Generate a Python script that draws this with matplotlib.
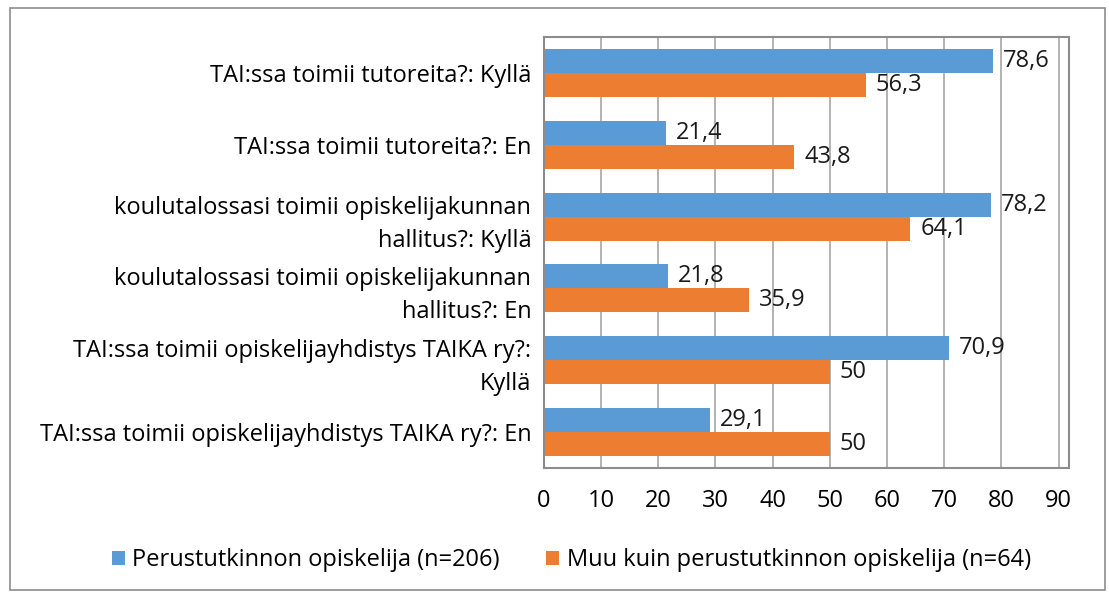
import numpy as np
import matplotlib.pyplot as plt
from matplotlib.patches import Rectangle

categories = [
    "TAI:ssa toimii tutoreita?: Kyllä",
    "TAI:ssa toimii tutoreita?: En",
    "koulutalossasi toimii opiskelijakunnan\nhallitus?: Kyllä",
    "koulutalossasi toimii opiskelijakunnan\nhallitus?: En",
    "TAI:ssa toimii opiskelijayhdistys TAIKA ry?:\nKyllä",
    "TAI:ssa toimii opiskelijayhdistys TAIKA ry?: En",
]
perus = [78.6, 21.4, 78.2, 21.8, 70.9, 29.1]
muu = [56.3, 43.8, 64.1, 35.9, 50, 50]
series_names = ["Perustutkinnon opiskelija (n=206)",
                "Muu kuin perustutkinnon opiskelija (n=64)"]

plt.rcParams['font.family'] = ['Open Sans', 'DejaVu Sans']
blue = "#5B9BD5"
orange = "#ED7D31"
fs = 17

fig = plt.figure(figsize=(11.09, 5.92), dpi=100)
ax = fig.add_axes([543.7 / 1109, 1 - 468 / 592, (1069 - 543.7) / 1109, (468 - 37) / 592])

y = np.arange(len(categories))
h = 0.335
b1 = ax.barh(y - h / 2, perus, height=h, color=blue, label=series_names[0], zorder=2)
b2 = ax.barh(y + h / 2, muu, height=h, color=orange, label=series_names[1], zorder=2)

def fmt(v):
    s = f"{v:.1f}".replace(".", ",")
    return s[:-2] if s.endswith(",0") else s

for bars, vals in [(b1, perus), (b2, muu)]:
    for rect, v in zip(bars, vals):
        ax.annotate(fmt(v), (v, rect.get_y() + rect.get_height() / 2),
                    xytext=(7, 0), textcoords="offset points",
                    va="center", ha="left", fontsize=fs, color="#1a1a1a", zorder=3)

ax.set_ylim(len(categories) - 0.5, -0.5)
ax.set_xlim(0, 91.8)
ax.set_xticks(np.arange(0, 100, 10))
ax.set_yticks(y)
ax.set_yticklabels(categories, fontsize=fs, linespacing=1.5)
ax.tick_params(axis="x", labelsize=fs, length=0, pad=15)
ax.tick_params(axis="y", length=0, pad=9)
ax.xaxis.grid(True, color="#A6A6A6", linewidth=1.2, zorder=0)
for s in ax.spines.values():
    s.set_color("#8C8C8C")
    s.set_linewidth(1.5)

fig.legend(handles=[b1, b2], loc="center", bbox_to_anchor=(0.515, 1 - 560 / 592),
           ncol=2, frameon=False, fontsize=fs, handlelength=0.55, handleheight=0.55,
           handletextpad=0.3, columnspacing=2.0)

fig.patches.append(Rectangle((10 / 1109, 1 - 590 / 592), 1095 / 1109, 582 / 592,
                             transform=fig.transFigure, fill=False,
                             edgecolor="#8C8C8C", linewidth=1.2))

fig.savefig("out.png", dpi=100)
